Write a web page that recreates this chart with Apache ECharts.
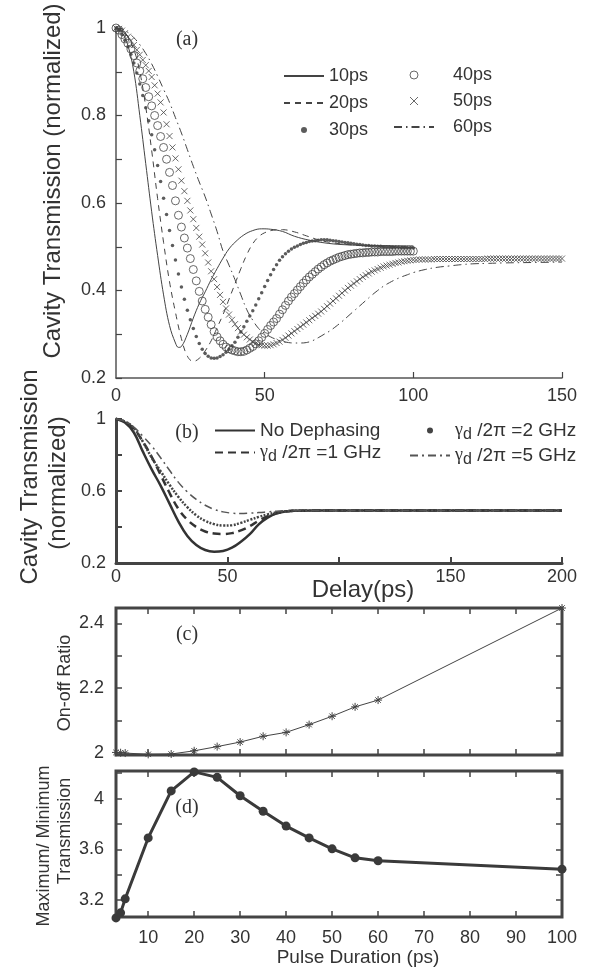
<!DOCTYPE html>
<html><head><meta charset="utf-8">
<script src="https://cdn.jsdelivr.net/npm/echarts@6/dist/echarts.min.js"></script>
<style>html,body{margin:0;padding:0;background:#fff}#c{width:610px;height:972px}</style>
</head><body><div id="c"></div>
<script>
// ---------- Panel (a): transmission vs delay for several pulse durations ----------
const t10 = [0,2,4,6,8,10,12,14,16,18,20,21,22,24,26,28,30,32,34,36,38,40,43,46,49,52,56,60,65,70,76,85,100];
const v10 = [1.0,0.99,0.96,0.9,0.8,0.69,0.58,0.48,0.39,0.32,0.28,0.27,0.272,0.3,0.337,0.37,0.397,0.425,0.45,0.474,0.495,0.51,0.527,0.537,0.541,0.54,0.535,0.524,0.515,0.509,0.505,0.503,0.502];
const t20 = [0,3,6,8,10,12,14,16,18,20,22,24,26,28,30,32,34,36,38,40,42,44,46,48,50,53,56,60,64,68,72,78,85,100];
const v20 = [1.0,0.99,0.95,0.9,0.82,0.72,0.61,0.51,0.42,0.35,0.29,0.25,0.238,0.245,0.262,0.285,0.315,0.345,0.38,0.415,0.45,0.482,0.507,0.523,0.532,0.538,0.539,0.534,0.525,0.516,0.51,0.505,0.502,0.5];
// 30ps, 40ps: one marker per ps from 0 to 100 ps
const v30 = [1.0,0.995,0.985,0.972,0.957,0.94,0.92,0.897,0.872,0.846,
 0.818,0.788,0.756,0.722,0.686,0.649,0.611,0.574,0.537,0.503,
 0.47,0.438,0.408,0.38,0.355,0.333,0.313,0.295,0.279,0.266,
 0.256,0.25,0.246,0.245,0.246,0.249,0.253,0.259,0.266,0.274,
 0.282,0.293,0.305,0.317,0.33,0.342,0.354,0.367,0.381,0.395,
 0.409,0.423,0.436,0.448,0.459,0.469,0.477,0.484,0.49,0.495,
 0.499,0.502,0.505,0.508,0.51,0.512,0.513,0.514,0.515,0.516,
 0.516,0.516,0.515,0.514,0.513,0.512,0.511,0.51,0.509,0.508,
 0.507,0.506,0.505,0.504,0.503,0.503,0.502,0.502,0.501,0.501,
 0.5,0.5,0.5,0.499,0.499,0.499,0.498,0.498,0.498,0.498,0.497];
const v40 = [1.0,0.995,0.985,0.975,0.965,0.952,0.937,0.92,0.902,0.884,
 0.864,0.843,0.822,0.8,0.777,0.752,0.727,0.7,0.67,0.64,
 0.605,0.572,0.545,0.52,0.497,0.473,0.448,0.422,0.398,0.376,
 0.357,0.339,0.322,0.306,0.294,0.285,0.277,0.271,0.267,0.264,
 0.262,0.26,0.26,0.261,0.264,0.268,0.272,0.278,0.285,0.293,
 0.302,0.311,0.32,0.328,0.336,0.346,0.356,0.366,0.376,0.385,
 0.393,0.401,0.409,0.417,0.424,0.431,0.437,0.443,0.449,0.454,
 0.459,0.463,0.467,0.47,0.473,0.476,0.478,0.48,0.482,0.483,
 0.484,0.485,0.486,0.486,0.487,0.487,0.488,0.488,0.488,0.489,
 0.489,0.489,0.489,0.489,0.49,0.49,0.49,0.49,0.49,0.49,0.49];
// 50ps: one marker per ps from 0 to 150 ps
const v50 = [1.0,0.998,0.994,0.988,0.98,0.971,0.961,0.95,0.939,0.927,
 0.915,0.902,0.888,0.869,0.85,0.83,0.807,0.78,0.753,0.727,
 0.702,0.677,0.651,0.627,0.605,0.583,0.563,0.543,0.523,0.505,
 0.485,0.464,0.444,0.426,0.408,0.39,0.374,0.359,0.345,0.333,
 0.323,0.314,0.306,0.299,0.293,0.288,0.283,0.279,0.276,0.275,
 0.274,0.274,0.275,0.277,0.28,0.283,0.287,0.292,0.297,0.302,
 0.307,0.312,0.317,0.322,0.327,0.332,0.337,0.342,0.347,0.352,
 0.358,0.364,0.37,0.376,0.382,0.388,0.394,0.4,0.406,0.411,
 0.416,0.421,0.426,0.431,0.435,0.439,0.443,0.446,0.449,0.452,
 0.455,0.457,0.459,0.461,0.463,0.464,0.466,0.467,0.468,0.469,
 0.47,0.47,0.471,0.471,0.471,0.471,0.471,0.472,0.472,0.472,
 0.472,0.472,0.472,0.472,0.472,0.472,0.472,0.472,0.472,0.472,
 0.472,0.472,0.472,0.472,0.472,0.473,0.473,0.473,0.473,0.473,
 0.473,0.473,0.473,0.473,0.473,0.473,0.473,0.473,0.473,0.473,
 0.473,0.473,0.473,0.473,0.473,0.473,0.473,0.473,0.473,0.473,
 0.473];
const t60 = [0,2,4,6,8,10,12,14,16,18,20,22,24,26,28,30,32,34,36,38,40,42,44,46,48,50,52,54,56,58,60,62,64,66,68,70,72,74,76,78,80,82,84,86,88,90,92,94,96,98,100,104,108,112,116,120,125,130,140,150];
const v60 = [1.0,0.998,0.99,0.978,0.962,0.942,0.918,0.89,0.86,0.83,0.795,0.76,0.722,0.684,0.648,0.614,0.575,0.535,0.49,0.458,0.425,0.39,0.356,0.332,0.313,0.302,0.294,0.288,0.284,0.281,0.28,0.28,0.281,0.285,0.292,0.3,0.308,0.318,0.329,0.341,0.353,0.365,0.377,0.389,0.4,0.41,0.418,0.425,0.431,0.436,0.441,0.448,0.453,0.456,0.459,0.461,0.462,0.463,0.464,0.465];
const aXLabels = [0,50,100,150];
const aXTicks = [50,100,150];
const aYLabels = [0.2,0.4,0.6,0.8,1];
const aYTicks = [0.2,0.3,0.4,0.5,0.6,0.7,0.8,0.9,1.0];

// ---------- Panel (b): dephasing ----------
const tB = [0,4,8,12,16,20,24,28,32,36,40,44,48,52,56,60,64,68,72,76,80,90,100,120,150,200];
const bNoDeph = [1.0,0.98,0.925,0.82,0.72,0.63,0.53,0.43,0.35,0.3,0.272,0.263,0.267,0.285,0.318,0.36,0.415,0.452,0.476,0.486,0.49,0.491,0.491,0.491,0.491,0.491];
const b1GHz = [1.0,0.985,0.945,0.875,0.79,0.69,0.59,0.5,0.44,0.4,0.375,0.364,0.361,0.366,0.381,0.405,0.435,0.46,0.476,0.486,0.49,0.491,0.491,0.491,0.491,0.491];
const b2GHz = [1.0,0.986,0.95,0.875,0.785,0.71,0.635,0.567,0.51,0.465,0.434,0.416,0.408,0.41,0.423,0.44,0.456,0.47,0.481,0.487,0.49,0.491,0.491,0.491,0.491,0.491];
const b5GHz = [1.0,0.988,0.955,0.905,0.85,0.785,0.715,0.648,0.595,0.553,0.521,0.498,0.484,0.477,0.475,0.477,0.48,0.484,0.488,0.49,0.491,0.491,0.491,0.491,0.491,0.491];
const bXLabels = [0,50,150,200];
const bXTicks = [50,100,150,200];
const bYLabels = [0.2,0.6,1];
const bYTicks = [0.2,0.4,0.6,0.8,1.0];

// ---------- Panels (c), (d): vs pulse duration ----------
const pulse = [3,4,5,10,15,20,25,30,35,40,45,50,55,60,100];
const onOff = [2.001,2.0,1.999,1.995,1.996,2.006,2.019,2.033,2.051,2.063,2.087,2.113,2.142,2.163,2.448];
const maxMin = [3.06,3.10,3.21,3.69,4.06,4.21,4.167,4.022,3.90,3.783,3.69,3.604,3.533,3.51,3.444];
const pXLabels = [10,20,30,40,50,60,70,80,90,100];
const pXTicks = [10,20,30,40,50,60,70,80,90];
const cYLabels = [2,2.2,2.4];
const cYTicks = [2.0,2.1,2.2,2.3,2.4];
const dYLabels = [3.2,3.6,4];
const dYTicks = [3.2,3.4,3.6,3.8,4.0,4.2];

// ---------- styling ----------
const FONT = '"Liberation Sans", Arial, Helvetica, sans-serif';
const SERIF = '"Liberation Serif", "Times New Roman", serif';
const INK = '#333';
const LN = '#444';
const XPATH = 'path://M0,0L10,10M10,0L0,10';
const STAR = 'path://M5,0L5,10M0,5L10,5M1.6,1.6L8.4,8.4M8.4,1.6L1.6,8.4';

const pairs = (xs, ys) => ys.map((y, i) => [xs[i], y]);
const perPs = ys => ys.map((y, i) => [i, y]);
const fmt = v => String(Math.round(v * 1000) / 1000);

const lbl = (vals, margin, show = true) => ({show, customValues: vals, fontSize: 18, color: INK, fontFamily: FONT, margin, formatter: fmt});
const tick = (vals, w) => ({show: true, inside: true, length: 6, customValues: vals, lineStyle: {color: LN, width: w}});

const chart = echarts.init(document.getElementById('c'), null, {renderer: 'canvas'});

const grids = [
  {left: 116, top: 28, width: 446, height: 350},
  {left: 116, top: 419, width: 446, height: 144},
  {left: 116, top: 608, width: 446, height: 147, show: true, borderColor: LN, borderWidth: 3},
  {left: 116, top: 771, width: 446, height: 146, show: true, borderColor: LN, borderWidth: 3}
].map(g => Object.assign({containLabel: false, outerBoundsMode: 'none'}, g));

const xAxes = [
  {gridIndex: 0, type: 'value', min: 0, max: 150, axisLine: {onZero: false, lineStyle: {color: '#555', width: 1.5}}, axisTick: tick(aXTicks, 1.2), axisLabel: lbl(aXLabels, 9), splitLine: {show: false}},
  {gridIndex: 1, type: 'value', min: 0, max: 200, axisLine: {onZero: false, lineStyle: {color: LN, width: 3}}, axisTick: tick(bXTicks, 2), axisLabel: lbl(bXLabels, 5), splitLine: {show: false}},
  {gridIndex: 2, type: 'value', min: 3, max: 100, position: 'bottom', axisLine: {show: false, onZero: false}, axisTick: tick(pXTicks, 1.5), axisLabel: {show: false}, splitLine: {show: false}},
  {gridIndex: 2, type: 'value', min: 3, max: 100, position: 'top', axisLine: {show: false, onZero: false}, axisTick: tick(pXTicks, 1.5), axisLabel: {show: false}, splitLine: {show: false}},
  {gridIndex: 3, type: 'value', min: 3, max: 100, position: 'bottom', axisLine: {show: false, onZero: false}, axisTick: tick(pXTicks, 1.5), axisLabel: lbl(pXLabels, 12), splitLine: {show: false}},
  {gridIndex: 3, type: 'value', min: 3, max: 100, position: 'top', axisLine: {show: false, onZero: false}, axisTick: tick(pXTicks, 1.5), axisLabel: {show: false}, splitLine: {show: false}}
];
const yAxes = [
  {gridIndex: 0, type: 'value', min: 0.2, max: 1.0, axisLine: {show: true, onZero: false, lineStyle: {color: '#555', width: 1.5}}, axisTick: tick(aYTicks, 1.2), axisLabel: lbl(aYLabels, 10), splitLine: {show: false}},
  {gridIndex: 1, type: 'value', min: 0.2, max: 1.0, axisLine: {show: true, onZero: false, lineStyle: {color: LN, width: 3}}, axisTick: tick(bYTicks, 2), axisLabel: lbl(bYLabels, 10), splitLine: {show: false}},
  {gridIndex: 2, type: 'value', min: 1.993, max: 2.448, position: 'left', axisLine: {show: false, onZero: false}, axisTick: tick(cYTicks, 1.5), axisLabel: lbl(cYLabels, 12), splitLine: {show: false}},
  {gridIndex: 2, type: 'value', min: 1.993, max: 2.448, position: 'right', axisLine: {show: false, onZero: false}, axisTick: tick(cYTicks, 1.5), axisLabel: {show: false}, splitLine: {show: false}},
  {gridIndex: 3, type: 'value', min: 3.067, max: 4.217, position: 'left', axisLine: {show: false, onZero: false}, axisTick: tick(dYTicks, 1.5), axisLabel: lbl(dYLabels, 12), splitLine: {show: false}},
  {gridIndex: 3, type: 'value', min: 3.067, max: 4.217, position: 'right', axisLine: {show: false, onZero: false}, axisTick: tick(dYTicks, 1.5), axisLabel: {show: false}, splitLine: {show: false}}
];

const lineS = (name, xi, yi, data, style) => ({
  name, type: 'line', xAxisIndex: xi, yAxisIndex: yi, data, smooth: 0.4, symbol: 'none',
  lineStyle: Object.assign({color: LN, width: 1}, style), itemStyle: {color: LN}, clip: false, animation: false
});

const series = [
  lineS('10ps', 0, 0, pairs(t10, v10), {width: 1}),
  lineS('20ps', 0, 0, pairs(t20, v20), {width: 1, type: [6, 5]}),
  {name: '30ps', type: 'scatter', xAxisIndex: 0, yAxisIndex: 0, data: perPs(v30), symbol: 'circle', symbolSize: 3.5, itemStyle: {color: '#333'}, animation: false},
  {name: '40ps', type: 'scatter', xAxisIndex: 0, yAxisIndex: 0, data: perPs(v40), symbol: 'circle', symbolSize: 8, itemStyle: {color: 'rgba(0,0,0,0)', borderColor: '#444', borderWidth: 1}, animation: false},
  {name: '50ps', type: 'scatter', xAxisIndex: 0, yAxisIndex: 0, data: perPs(v50), symbol: XPATH, symbolSize: 6, itemStyle: {color: 'rgba(0,0,0,0)', borderColor: '#444', borderWidth: 1}, animation: false},
  lineS('60ps', 0, 0, pairs(t60, v60), {width: 1, type: [8, 4, 1.5, 4]}),

  lineS('No Dephasing', 1, 1, pairs(tB, bNoDeph), {width: 2.5, color: '#333'}),
  lineS('g1', 1, 1, pairs(tB, b1GHz), {width: 2.5, color: '#333', type: [8, 5]}),
  lineS('g2', 1, 1, pairs(tB, b2GHz), {width: 2.5, color: '#444', type: [2, 1.5]}),
  lineS('g5', 1, 1, pairs(tB, b5GHz), {width: 1.5, color: '#555', type: [8, 4, 2, 4]}),

  {name: 'onoff', type: 'line', xAxisIndex: 2, yAxisIndex: 2, data: pairs(pulse, onOff), symbol: STAR, symbolSize: 8,
   lineStyle: {color: LN, width: 1}, itemStyle: {color: LN, borderColor: LN, borderWidth: 1}, clip: false, animation: false},
  {name: 'maxmin', type: 'line', xAxisIndex: 4, yAxisIndex: 4, data: pairs(pulse, maxMin), symbol: 'circle', symbolSize: 9,
   lineStyle: {color: '#3a3a3a', width: 3}, itemStyle: {color: '#3a3a3a'}, clip: false, animation: false}
];

const legTxt = {fontSize: 18, color: INK, fontFamily: FONT};
const richB = {
  g: {fontSize: 18, fontFamily: SERIF, color: INK},
  d: {fontSize: 16, fontFamily: FONT, color: INK, padding: [9, 0, 0, 0]},
  t: {fontSize: 19, fontFamily: FONT, color: INK}
};
const bNames = {
  'No Dephasing': '{t|No Dephasing}',
  g1: '{g|γ}{d|d}{t| /2π =1 GHz}',
  g2: '{g|γ}{d|d}{t| /2π =2 GHz}',
  g5: '{g|γ}{d|d}{t| /2π =5 GHz}'
};
// line-only legend entries: hide the centre symbol, keep the line pattern
const lineOnly = name => ({name, itemStyle: {opacity: 0}});
const legCommon = {orient: 'vertical', selectedMode: false, padding: 0, itemWidth: 40};
const legends = [
  Object.assign({}, legCommon, {left: 283, top: 67, itemHeight: 6, itemGap: 9, textStyle: legTxt,
    data: [lineOnly('10ps'), lineOnly('20ps'), '30ps']}),
  Object.assign({}, legCommon, {left: 393, top: 66, itemHeight: 8, itemGap: 8, textStyle: Object.assign({padding: [0, 0, 0, 14]}, legTxt),
    data: [{name: '40ps', itemStyle: {borderWidth: 1}}, {name: '50ps', itemStyle: {borderWidth: 1}}, lineOnly('60ps')]}),
  Object.assign({}, legCommon, {left: 214, top: 421, itemHeight: 6, itemGap: 3, textStyle: Object.assign({rich: richB}, legTxt),
    formatter: n => bNames[n], data: [lineOnly('No Dephasing'), lineOnly('g1')]}),
  Object.assign({}, legCommon, {left: 409, top: 421, itemHeight: 6, itemGap: 3, textStyle: Object.assign({rich: richB}, legTxt),
    formatter: n => bNames[n], data: [{name: 'g2', icon: 'circle'}, lineOnly('g5')]})
];

const txt = (text, x, y, size, opts = {}) => ({
  type: 'text', x, y, rotation: opts.rot || 0, silent: true,
  style: {text, fill: INK, fontSize: size, fontFamily: opts.family || FONT, align: 'center', verticalAlign: 'middle'}
});
const R = Math.PI / 2;
const graphics = [
  txt('(a)', 187, 40, 20, {family: SERIF}),
  txt('(b)', 187, 433, 20, {family: SERIF}),
  txt('(c)', 187, 635, 20, {family: SERIF}),
  txt('(d)', 187, 808, 20, {family: SERIF}),
  txt('Cavity Transmission (normalized)', 53, 181, 24, {rot: R}),
  txt('Cavity Transmission', 30, 477, 24, {rot: R}),
  txt('(normalized)', 58, 483, 24, {rot: R}),
  txt('Delay(ps)', 363, 590, 24),
  txt('On-off Ratio', 65, 683, 18, {rot: R}),
  txt('Maximum/ Minimum', 44, 846, 18, {rot: R}),
  txt('Transmission', 65, 831, 18, {rot: R}),
  txt('Pulse Duration (ps)', 358, 958, 19)
];

chart.setOption({
  backgroundColor: '#fff',
  animation: false,
  textStyle: {fontFamily: FONT},
  grid: grids,
  xAxis: xAxes,
  yAxis: yAxes,
  legend: legends,
  series,
  graphic: graphics
});
</script></body></html>
